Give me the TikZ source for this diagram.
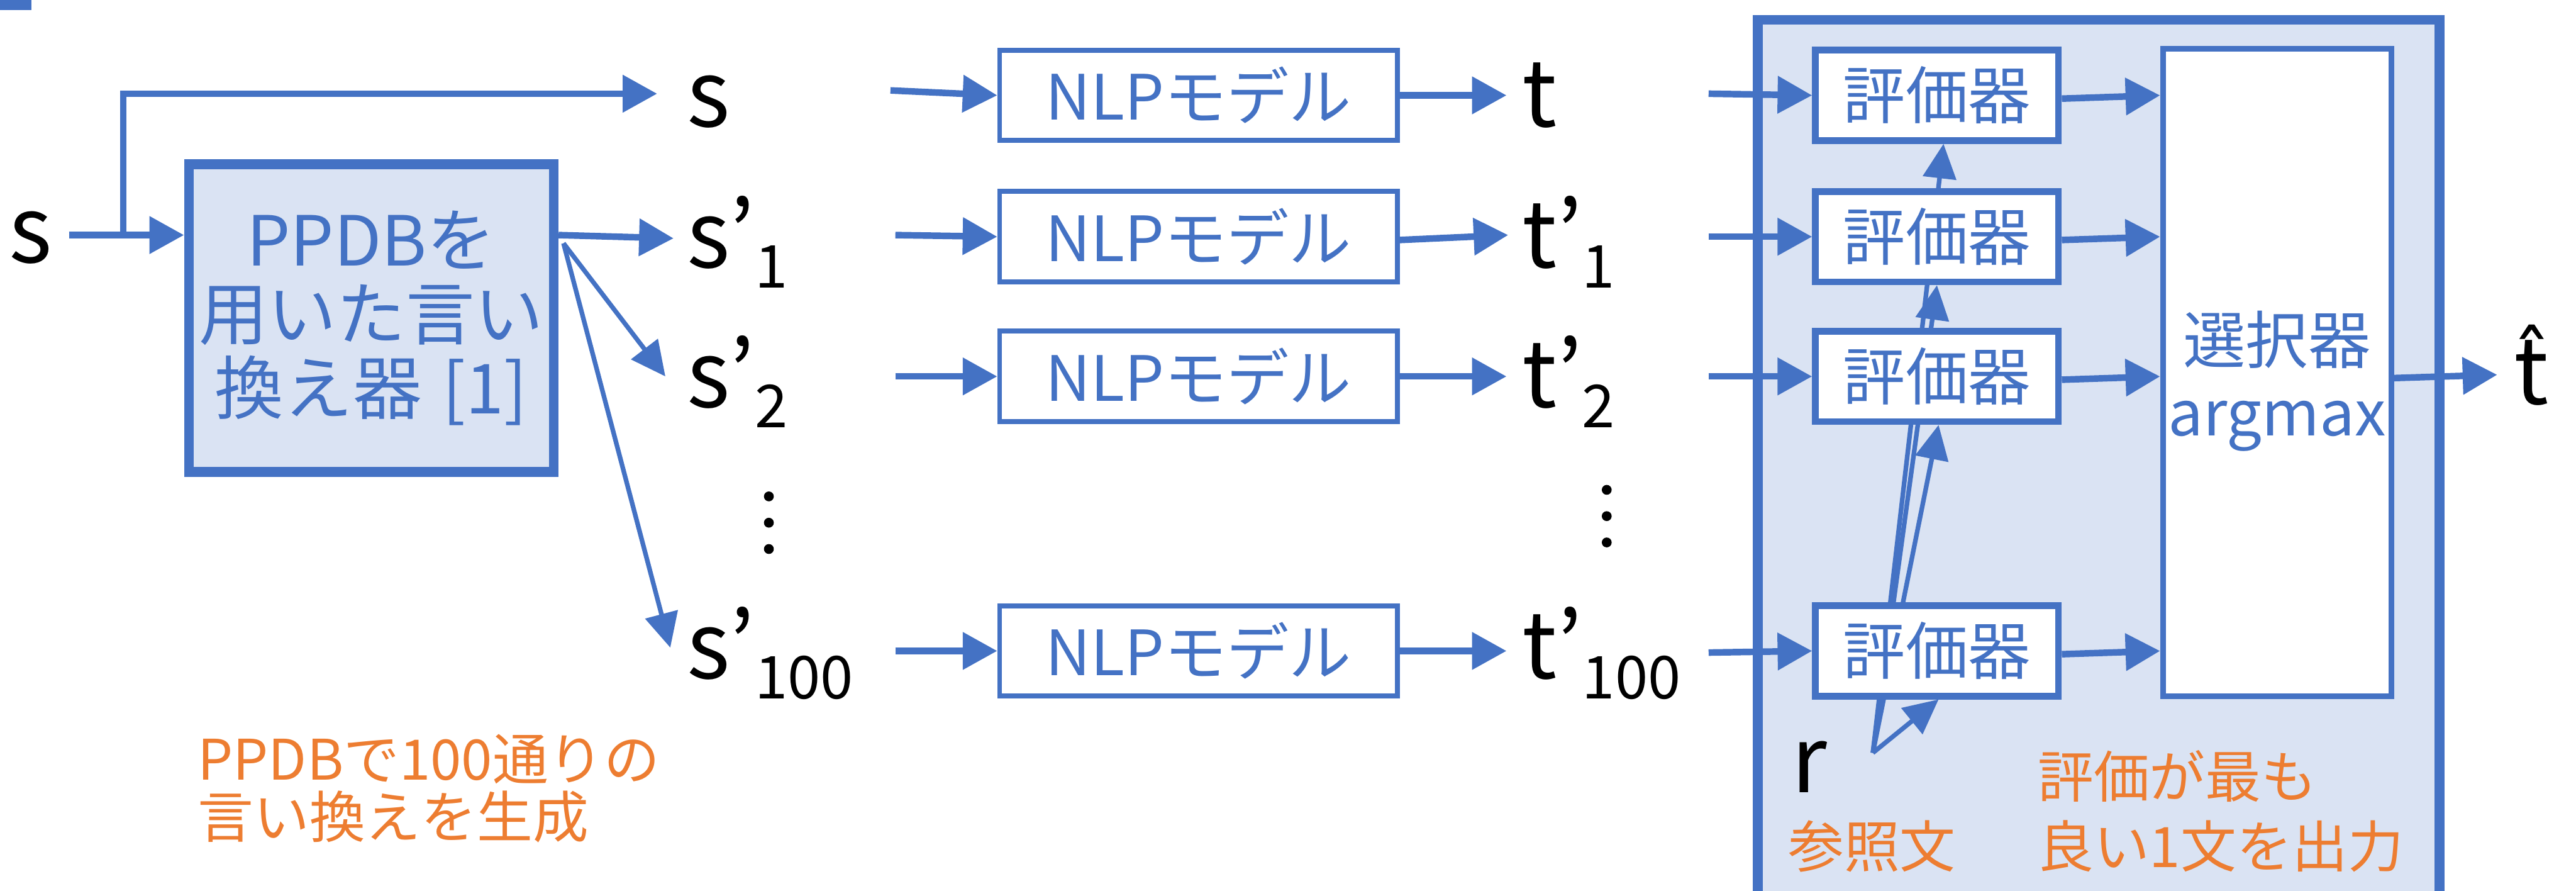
\documentclass[tikz,border=0pt]{standalone}
\usepackage{fontspec}
\setmainfont{Noto Sans CJK JP}
\newfontfamily\djv{DejaVu Sans}
\usetikzlibrary{arrows.meta}
\definecolor{myblue}{HTML}{4472C4}
\definecolor{mylight}{HTML}{DAE3F3}
\definecolor{myorange}{HTML}{ED7D31}
\pgfdeclarelayer{back}\pgfdeclarelayer{mid}\pgfsetlayers{back,mid,main}
\newcommand\subl[1]{\raisebox{-6pt}{\fontsize{18}{18}\selectfont #1}}
\begin{document}
\begin{tikzpicture}[x=0.5pt,y=-0.5pt,
 arr/.style={draw=myblue,line width=2pt,-{Triangle[length=10.5pt,width=11pt]}},
 tarr/.style={draw=myblue,line width=1.4pt,-{Triangle[length=10.5pt,width=10pt]}},
 lbl/.style={anchor=base west,inner sep=0,font=\fontsize{28}{28}\selectfont},
 nlp/.style={draw=myblue,line width=1.5pt,fill=white,minimum width=121pt,minimum height=27.5pt,inner sep=0,text=myblue,font=\fontsize{19}{19}\selectfont},
 evalb/.style={nlp,line width=2pt,minimum width=74pt},
 note/.style={anchor=west,inner sep=0,text=myorange,font=\fontsize{17}{17}\selectfont},
 dotc/.style={fill=black,circle,inner sep=0,minimum size=3pt}
]
\clip (0,0) rectangle (1568,542);
\fill[myblue] (0,0) rectangle (19,6);

% left part
\node[lbl] (sin) at (5,160) {s};
\node[draw=myblue,line width=3pt,fill=mylight,minimum width=111pt,minimum height=93.5pt,inner sep=0,text=myblue,align=center,font=\fontsize{21}{22.5}\selectfont] (ppdb) at (226,193.5) {PPDBを\\用いた言い\\換え器\hspace{0.3em}[1]};

\node[lbl] (s0) at (418,77) {s};
\node[lbl] (s1) at (418,163) {s’\subl{1}};
\node[lbl] (s2) at (418,248) {s’\subl{2}};
\node[lbl] (s100) at (418,413) {s’\subl{100}};
\node[dotc] (da1) at (468,302) {};
\node[dotc] (da2) at (468,318) {};
\node[dotc] (da3) at (468,334) {};

\node[note] (o1) at (120,462) {PPDBで100通りの};
\node[note] (o2) at (120,497) {言い換えを生成};

% NLP models
\node[nlp] (n0) at (729.5,58) {NLPモデル};
\node[nlp] (n1) at (729.5,144) {NLPモデル};
\node[nlp] (n2) at (729.5,229) {NLPモデル};
\node[nlp] (n4) at (729.5,396) {NLPモデル};

\node[lbl] (t0) at (926,77) {t};
\node[lbl] (t1) at (926,163) {t’\subl{1}};
\node[lbl] (t2) at (926,248) {t’\subl{2}};
\node[lbl] (t100) at (926,413) {t’\subl{100}};
\node[dotc] (db1) at (978,298) {};
\node[dotc] (db2) at (978,314) {};
\node[dotc] (db3) at (978,330) {};

% evaluation block
\begin{pgfonlayer}{back}
\draw[myblue,line width=3pt,fill=mylight] (1070,12) rectangle (1485,570);
\end{pgfonlayer}
\node[evalb] (e0) at (1179,58) {評価器};
\node[evalb] (e1) at (1179,144) {評価器};
\node[evalb] (e2) at (1179,229) {評価器};
\node[evalb] (e4) at (1179,396) {評価器};
\node[evalb,line width=1.7pt,minimum width=69.5pt,minimum height=197pt] (sel) at (1386,226.5) {};
\node[inner sep=0,text=myblue,align=center,font=\fontsize{19}{21}\selectfont] (selt) at (1386,232) {選択器\\[1pt]argmax};
\node[lbl] (that) at (1530,246) {\setbox0\hbox{t}\rlap{\hbox to\wd0{\hss\raisebox{5pt}{\djv\fontsize{24}{24}\selectfont ˆ}\hss}}t};

\node[lbl] (r) at (1090,482) {r};
\node[note] (ref) at (1088,515) {参照文};
\node[note] (o3) at (1240,472) {評価が最も};
\node[note] (o4) at (1240,515) {良い1文を出力};

% connectors
\coordinate (sR) at (42,143);
\coordinate (br) at (75,143);
\coordinate (pin) at (112,143);
\draw[arr] (sR) -- (pin);
\coordinate (a0) at (400,57);
\draw[arr] (br) |- (a0);
\coordinate (pout) at (340,143);
\coordinate (pout2) at (343,148);
\coordinate (a1) at (410,145);
\coordinate (a2) at (405,229);
\coordinate (a100) at (408,394);
\draw[arr] (pout) -- (a1);
\draw[tarr] (pout2) -- (a2);
\draw[tarr] (pout2) -- (a100);

\coordinate (b0) at (542,55);
\coordinate (b1) at (545,143);
\coordinate (b2) at (545,229);
\coordinate (b4) at (545,396);
\draw[arr] (b0) -- (n0.west);
\draw[arr] (b1) -- (n1.west);
\draw[arr] (b2) -- (n2.west);
\draw[arr] (b4) -- (n4.west);

\coordinate (c0) at (917,58);
\coordinate (c1) at (918,143);
\coordinate (c2) at (917,229);
\coordinate (c4) at (917,396);
\draw[arr] (n0.east) -- (c0);
\draw[arr] ([yshift=-1pt]n1.east) -- (c1);
\draw[arr] (n2.east) -- (c2);
\draw[arr] (n4.east) -- (c4);

\coordinate (d0) at (1040,57);
\coordinate (d1) at (1040,144);
\coordinate (d2) at (1040,229);
\coordinate (d4) at (1040,397);
\draw[arr] (d0) -- (e0.west);
\draw[arr] (d1) -- (e1.west);
\draw[arr] (d2) -- (e2.west);
\draw[arr] (d4) -- (e4.west);

\draw[arr] ([yshift=-1pt]e0.east) -- (sel.west |- e0.west);
\draw[arr] ([yshift=-1pt]e1.east) -- (sel.west |- e1.west);
\draw[arr] ([yshift=-1pt]e2.east) -- (sel.west |- e2.west);
\draw[arr] ([yshift=-1pt]e4.east) -- (sel.west |- e4.west);
\coordinate (f0) at (1520,228);
\draw[arr] (sel.east |- 0,230) -- (f0);

\coordinate (rs) at (1140,458);
\begin{pgfonlayer}{mid}
\draw[tarr] (rs) -- ([xshift=2pt]e0.south);
\draw[tarr] (rs) -- (e1.south);
\draw[tarr] (rs) -- ([xshift=0.5pt]e2.south);
\end{pgfonlayer}
\draw[tarr] (rs) -- ([xshift=0.5pt]e4.south);
\end{tikzpicture}
\end{document}
